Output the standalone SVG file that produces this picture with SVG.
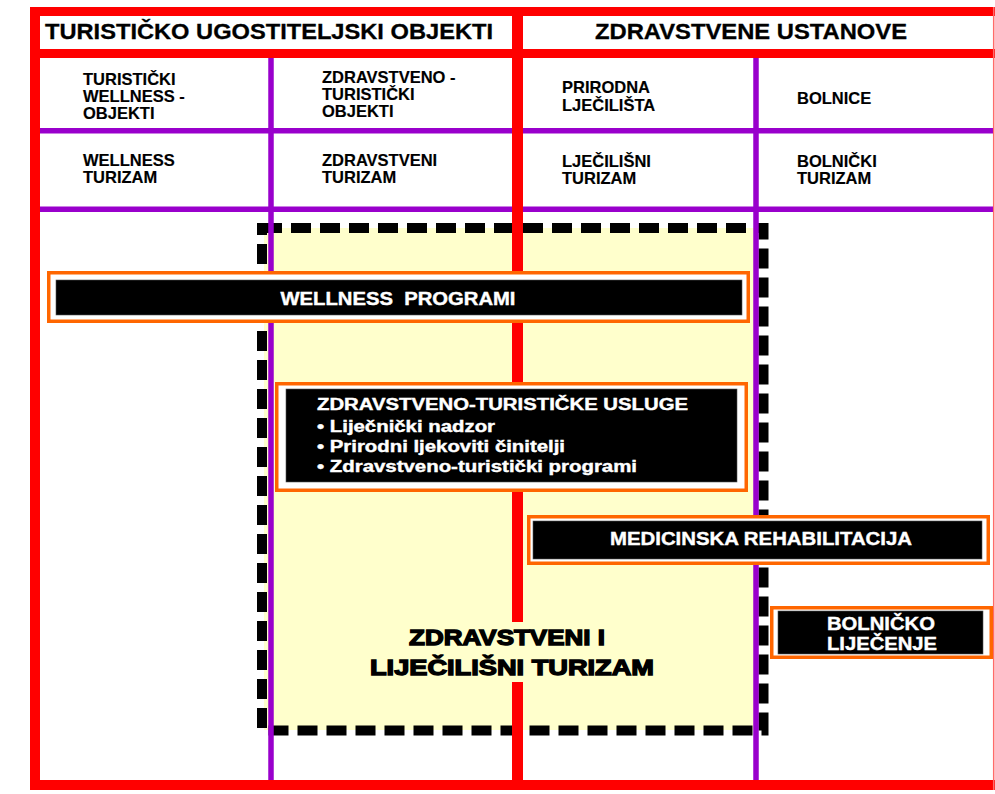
<svg xmlns="http://www.w3.org/2000/svg" width="995" height="794" viewBox="0 0 995 794">
<style>
text{font-family:"Liberation Sans",Arial,sans-serif;font-weight:bold}
.hdr{font-size:22px;fill:#000;stroke:#000;stroke-width:0.3}
.cell{font-size:16.5px;fill:#000;stroke:#000;stroke-width:0.15}
.wt{fill:#fff;stroke:#fff;stroke-width:0.4}
.big{font-size:21.5px;fill:#000;stroke:#000;stroke-width:1.3}
.red{fill:#ff0000}
.pur{stroke:#9900cc;stroke-width:5.5;fill:none}
.ob{fill:#fff;stroke:#ff6600;stroke-width:3.5}
.bk{fill:#000;stroke:#555;stroke-width:0.6}
</style>
<rect x="0" y="0" width="995" height="794" fill="#fff"/>
<g id="zone">
<rect x="264" y="228" width="492" height="502" fill="#ffffcc"/>
<rect x="262" y="228" width="501.5" height="502.5" fill="none" stroke="#000" stroke-width="10" stroke-dasharray="20 9"/>
</g>
<g id="connectors">
<line class="pur" x1="40" y1="130.7" x2="993" y2="130.7"/>
<line class="pur" x1="40" y1="209.3" x2="993" y2="209.3"/>
<line class="pur" x1="271" y1="58" x2="271" y2="780"/>
<line class="pur" x1="756" y1="58" x2="756" y2="780"/>
<rect class="red" x="30" y="7" width="965" height="9"/>
<rect class="red" x="30" y="49" width="965" height="9"/>
<rect class="red" x="30" y="780" width="965" height="10"/>
<rect class="red" x="30" y="7" width="10" height="783"/>
<rect class="red" x="512" y="7" width="11" height="783"/>
<line x1="993.7" y1="7" x2="993.7" y2="790" stroke="#ff6a6a" stroke-width="1.5"/>
</g>
<g id="header-left"><text class="hdr" x="45" y="39" textLength="448" lengthAdjust="spacingAndGlyphs">TURISTIČKO UGOSTITELJSKI OBJEKTI</text></g>
<g id="header-right"><text class="hdr" x="595" y="39" textLength="312" lengthAdjust="spacingAndGlyphs">ZDRAVSTVENE USTANOVE</text></g>
<g id="cell-wellness-objekti"><text class="cell" x="83" y="85">TURISTIČKI</text><text class="cell" x="83" y="101.8">WELLNESS -</text><text class="cell" x="83" y="118.6">OBJEKTI</text></g>
<g id="cell-zt-objekti"><text class="cell" x="322" y="83">ZDRAVSTVENO -</text><text class="cell" x="322" y="100">TURISTIČKI</text><text class="cell" x="322" y="117.3">OBJEKTI</text></g>
<g id="cell-prirodna"><text class="cell" x="562" y="93.3">PRIRODNA</text><text class="cell" x="562" y="111">LJEČILIŠTA</text></g>
<g id="cell-bolnice"><text class="cell" x="797" y="104">BOLNICE</text></g>
<g id="cell-wellness-turizam"><text class="cell" x="83" y="165.7">WELLNESS</text><text class="cell" x="83" y="182.7">TURIZAM</text></g>
<g id="cell-zdravstveni-turizam"><text class="cell" x="322" y="165.7">ZDRAVSTVENI</text><text class="cell" x="322" y="182.7">TURIZAM</text></g>
<g id="cell-ljecilisni-turizam"><text class="cell" x="562" y="166.7">LJEČILIŠNI</text><text class="cell" x="562" y="184">TURIZAM</text></g>
<g id="cell-bolnicki-turizam"><text class="cell" x="797" y="166.7">BOLNIČKI</text><text class="cell" x="797" y="184">TURIZAM</text></g>
<g id="label-zdravstveni-ljecilisni">
<rect x="360" y="622" width="300" height="60" fill="#ffffcc"/>
<text class="big" x="507" y="645" text-anchor="middle" textLength="196" lengthAdjust="spacingAndGlyphs">ZDRAVSTVENI I</text>
<text class="big" x="512" y="675" text-anchor="middle" textLength="284" lengthAdjust="spacingAndGlyphs">LIJEČILIŠNI TURIZAM</text>
</g>
<g id="wellness-programi">
<rect class="ob" x="48.75" y="272.75" width="699.5" height="48.5"/>
<rect class="bk" x="56" y="280" width="686" height="35"/>
<text class="wt" x="398" y="305" font-size="18" text-anchor="middle" textLength="235" lengthAdjust="spacingAndGlyphs">WELLNESS&#160; PROGRAMI</text>
</g>
<g id="zt-usluge">
<rect class="ob" x="276.75" y="383.75" width="469.5" height="106.5"/>
<rect class="bk" x="286" y="389" width="451" height="93"/>
<text class="wt" x="317" y="410" font-size="16" textLength="371" lengthAdjust="spacingAndGlyphs">ZDRAVSTVENO-TURISTIČKE USLUGE</text>
<text class="wt" x="317" y="431.7" font-size="16" textLength="178" lengthAdjust="spacingAndGlyphs">• Liječnički nadzor</text>
<text class="wt" x="317" y="451.7" font-size="16" textLength="248" lengthAdjust="spacingAndGlyphs">• Prirodni ljekoviti činitelji</text>
<text class="wt" x="317" y="471.7" font-size="16" textLength="320" lengthAdjust="spacingAndGlyphs">• Zdravstveno-turistički programi</text>
</g>
<g id="medicinska-rehabilitacija">
<rect class="ob" x="528.75" y="516.75" width="459.5" height="46.5"/>
<rect class="bk" x="533" y="521" width="449" height="38"/>
<text class="wt" x="761" y="545" font-size="18.5" text-anchor="middle" textLength="302" lengthAdjust="spacingAndGlyphs">MEDICINSKA REHABILITACIJA</text>
</g>
<g id="bolnicko-ljecenje">
<rect class="ob" x="771.75" y="607.75" width="219.5" height="49.5"/>
<rect class="bk" x="778" y="611" width="205" height="43"/>
<text class="wt" x="881" y="630" font-size="18.5" text-anchor="middle" textLength="108" lengthAdjust="spacingAndGlyphs">BOLNIČKO</text>
<text class="wt" x="882" y="650" font-size="18.5" text-anchor="middle" textLength="110" lengthAdjust="spacingAndGlyphs">LIJEČENJE</text>
</g>
</svg>
